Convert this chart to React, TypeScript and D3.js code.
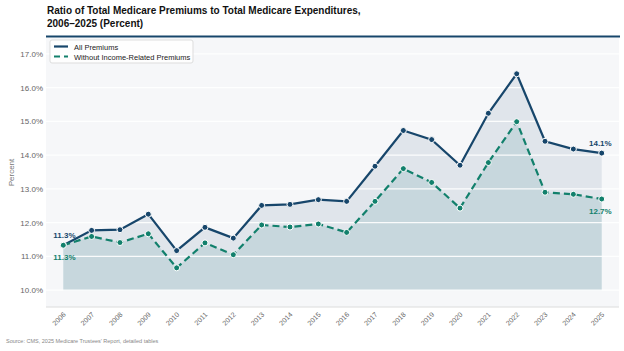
import { useEffect, useRef } from 'react';
import * as d3 from 'd3';

const years = ['2006', '2007', '2008', '2009', '2010', '2011', '2012', '2013', '2014', '2015',
  '2016', '2017', '2018', '2019', '2020', '2021', '2022', '2023', '2024', '2025'];
const allPremiums = [11.33, 11.77, 11.79, 12.25, 11.17, 11.86, 11.54, 12.51, 12.54, 12.68,
  12.63, 13.67, 14.73, 14.46, 13.7, 15.24, 16.41, 14.41, 14.18, 14.06];
const withoutIrp = [11.33, 11.59, 11.41, 11.67, 10.66, 11.4, 11.05, 11.93, 11.87, 11.96,
  11.71, 12.63, 13.6, 13.19, 12.43, 13.78, 14.99, 12.9, 12.84, 12.7];
const yTicks = [10, 11, 12, 13, 14, 15, 16, 17];

const NAVY = '#17466b';
const TEAL = '#12806c';

export default function App() {
  const ref = useRef<SVGSVGElement>(null);

  useEffect(() => {
    const width = 624, height = 351;
    const m = { top: 38, right: 619, bottom: 307, left: 46 };
    const svg = d3.select(ref.current);
    svg.selectAll('*').remove();
    svg.attr('width', width).attr('height', height).style('font-family', 'Liberation Sans, Arial, sans-serif');

    const x = d3.scalePoint<string>().domain(years).range([63.3, 601.7]);
    const y = d3.scaleLinear().domain([9.5, 17.5]).range([m.bottom, m.top - 1]);

    // title
    svg.append('text').attr('x', 47).attr('y', 14).attr('font-size', 10).attr('font-weight', 'bold')
      .attr('fill', '#111').text('Ratio of Total Medicare Premiums to Total Medicare Expenditures,');
    svg.append('text').attr('x', 47).attr('y', 27).attr('font-size', 10).attr('font-weight', 'bold')
      .attr('fill', '#111').text('2006–2025 (Percent)');

    // plot background
    svg.append('rect').attr('x', m.left).attr('y', m.top).attr('width', m.right - m.left)
      .attr('height', m.bottom - m.top).attr('fill', '#f6f7f9');
    svg.append('line').attr('x1', m.left).attr('x2', 620).attr('y1', 36.5).attr('y2', 36.5)
      .attr('stroke', NAVY).attr('stroke-width', 2.2);

    const areaAll = d3.area<number>().x((_, i) => x(years[i])!).y0(y(10)).y1(d => y(d));
    svg.append('path').datum(allPremiums).attr('d', areaAll).attr('fill', '#1e4a72').attr('fill-opacity', 0.1);
    svg.append('path').datum(withoutIrp).attr('d', areaAll).attr('fill', '#2f8490').attr('fill-opacity', 0.14);

    // gridlines
    svg.append('g').selectAll('line').data(yTicks).join('line')
      .attr('x1', m.left).attr('x2', m.right).attr('y1', d => y(d)).attr('y2', d => y(d))
      .attr('stroke', '#fff').attr('stroke-width', 1.2).attr('stroke-opacity', 0.9);

    // y axis labels
    svg.append('g').selectAll('text').data(yTicks).join('text')
      .attr('x', 43).attr('y', d => y(d) + 3).attr('text-anchor', 'end')
      .attr('font-size', 8).attr('fill', '#666').text(d => d3.format('.1f')(d) + '%');
    svg.append('text').attr('transform', `translate(14,${(m.top + m.bottom) / 2}) rotate(-90)`)
      .attr('text-anchor', 'middle').attr('font-size', 8).attr('fill', '#777').text('Percent');

    // x axis
    svg.append('line').attr('x1', m.left).attr('x2', m.right).attr('y1', m.bottom).attr('y2', m.bottom)
      .attr('stroke', '#dcdcdc').attr('stroke-width', 1);
    svg.append('g').selectAll('text').data(years).join('text')
      .attr('transform', d => `translate(${x(d)! + 3},${m.bottom + 8}) rotate(-45)`)
      .attr('text-anchor', 'end').attr('font-size', 7).attr('fill', '#666').text(d => d);

    // lines
    const line = d3.line<number>().x((_, i) => x(years[i])!).y(d => y(d));
    svg.append('path').datum(allPremiums).attr('d', line).attr('fill', 'none')
      .attr('stroke', NAVY).attr('stroke-width', 2.2);
    svg.append('path').datum(withoutIrp).attr('d', line).attr('fill', 'none')
      .attr('stroke', TEAL).attr('stroke-width', 2.2).attr('stroke-dasharray', '7,4');

    const dots = (data: number[], color: string) => svg.append('g').selectAll('circle').data(data).join('circle')
      .attr('cx', (_, i) => x(years[i])!).attr('cy', d => y(d)).attr('r', 3)
      .attr('fill', color).attr('stroke', '#fff').attr('stroke-width', 1);
    dots(allPremiums, NAVY);
    dots(withoutIrp, TEAL);

    // end labels
    const first = 0, last = years.length - 1;
    const lab = (xx: number, yy: number, txt: string, color: string, anchor: string) =>
      svg.append('text').attr('x', xx).attr('y', yy).attr('text-anchor', anchor)
        .attr('font-size', 8).attr('font-weight', 'bold').attr('fill', color).text(txt);
    lab(x(years[first])! - 10, y(allPremiums[first]) - 7, d3.format('.1f')(allPremiums[first]) + '%', NAVY, 'start');
    lab(x(years[first])! - 10, y(withoutIrp[first]) + 15, d3.format('.1f')(withoutIrp[first]) + '%', TEAL, 'start');
    lab(x(years[last])! + 10, y(allPremiums[last]) - 7, d3.format('.1f')(allPremiums[last]) + '%', NAVY, 'end');
    lab(x(years[last])! + 10, y(withoutIrp[last]) + 15, d3.format('.1f')(withoutIrp[last]) + '%', TEAL, 'end');

    // legend
    const lg = svg.append('g').attr('transform', 'translate(50,40)');
    lg.append('rect').attr('width', 143).attr('height', 23).attr('rx', 2).attr('fill', '#fff')
      .attr('fill-opacity', 0.85).attr('stroke', '#ddd');
    lg.append('line').attr('x1', 4).attr('x2', 18).attr('y1', 6.5).attr('y2', 6.5).attr('stroke', NAVY).attr('stroke-width', 2.2);
    lg.append('line').attr('x1', 4).attr('x2', 18).attr('y1', 16.5).attr('y2', 16.5).attr('stroke', TEAL)
      .attr('stroke-width', 2.2).attr('stroke-dasharray', '6,4');
    lg.append('text').attr('x', 24).attr('y', 9.5).attr('font-size', 7.5).attr('fill', '#222').text('All Premiums');
    lg.append('text').attr('x', 24).attr('y', 19.5).attr('font-size', 7.5).attr('fill', '#222').text('Without Income-Related Premiums');

    // source
    svg.append('text').attr('x', 6).attr('y', 343).attr('font-size', 5.5).attr('fill', '#888')
      .text('Source: CMS, 2025 Medicare Trustees\u2019 Report, detailed tables');
  }, []);

  return <svg ref={ref} style={{ position: 'absolute', left: 0, top: 0 }} />;
}
